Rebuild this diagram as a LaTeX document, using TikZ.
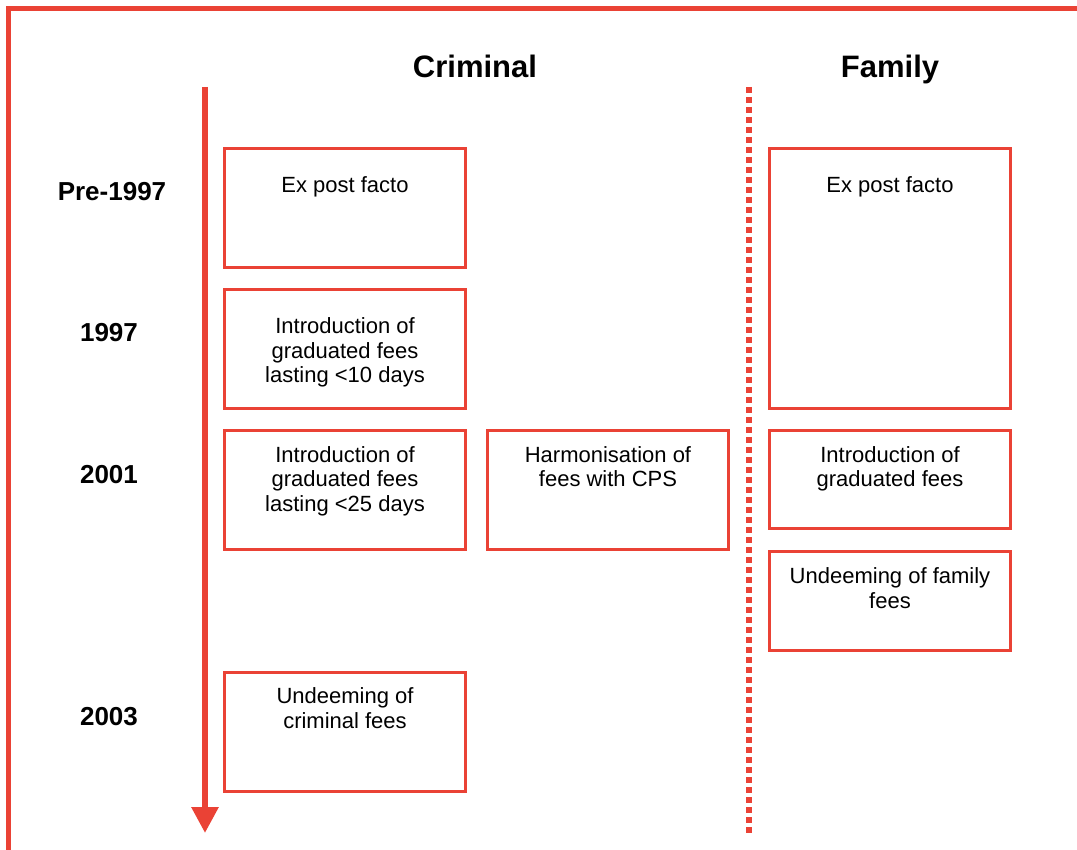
\documentclass[tikz,border=0pt]{standalone}
\usepackage{fontspec}
\setmainfont{Liberation Sans}
\usetikzlibrary{arrows.meta}
\definecolor{tlred}{RGB}{234,66,53}
\begin{document}
\begin{tikzpicture}[x=1pt,y=-1pt,
  box/.style={draw=tlred, line width=3pt, minimum width=241pt, inner sep=0pt, outer sep=0pt},
  boxtext/.style={anchor=north, align=center, inner sep=0pt, font=\fontsize{22}{24.5}\selectfont},
  head/.style={font=\bfseries\fontsize{31}{36}\selectfont, anchor=base, inner sep=0pt},
  yearlabel/.style={font=\bfseries\fontsize{26}{30}\selectfont, anchor=base, inner sep=0pt},
  framepath/.style={draw=tlred, line width=5pt},
  timeline/.style={draw=tlred, line width=6pt, -{Triangle[length=26pt,width=26pt]}},
  divider/.style={draw=tlred, line width=6pt, dash pattern=on 6pt off 4pt}]
\useasboundingbox (0,0) rectangle (1077,850);

% frame (top and left edges)
\coordinate (frBL) at (8.5,855);
\coordinate (frTL) at (8.5,8.5);
\coordinate (frTR) at (1082,8.5);
\draw[framepath] (frBL) -- (frTL) -- (frTR);

% timeline arrow
\coordinate (tlTop) at (205,87);
\coordinate (tlEnd) at (205,833);
\draw[timeline] (tlTop) -- (tlEnd);

% divider
\coordinate (divTop) at (749,87);
\coordinate (divBot) at (749,833);
\draw[divider] (divTop) -- (divBot);

% headings
\node[head] (hCrim) at (475,77.7) {Criminal};
\node[head] (hFam) at (890,77.7) {Family};

% year labels
\node[yearlabel] (yPre) at (112,200.5) {Pre-1997};
\node[yearlabel] (y1997) at (109,341.5) {1997};
\node[yearlabel] (y2001) at (109,483.5) {2001};
\node[yearlabel] (y2003) at (109,725.5) {2003};

% criminal column
\node[box, minimum height=119pt] (cPre) at (345,208) {};
\node[boxtext] (cPreT) at (345,192.5-17.15) {\strut Ex post facto};
\node[box, minimum height=119pt] (c1997) at (345,349) {};
\node[boxtext] (c1997T) at (345,333.5-17.15) {\strut Introduction of\\graduated fees\\lasting <10 days};
\node[box, minimum height=119pt] (c2001) at (345,490) {};
\node[boxtext] (c2001T) at (345,462-17.15) {\strut Introduction of\\graduated fees\\lasting <25 days};
\node[box, minimum height=119pt] (c2003) at (345,732) {};
\node[boxtext] (c2003T) at (345,703.5-17.15) {\strut Undeeming of\\criminal fees};

% middle column
\node[box, minimum height=119pt] (cHarm) at (608,490) {};
\node[boxtext] (cHarmT) at (608,462-17.15) {\strut Harmonisation of\\fees with CPS};

% family column
\node[box, minimum height=260pt] (fPre) at (890,278.5) {};
\node[boxtext] (fPreT) at (890,192.5-17.15) {\strut Ex post facto};
\node[box, minimum height=98pt] (f2001) at (890,479.5) {};
\node[boxtext] (f2001T) at (890,462-17.15) {\strut Introduction of\\graduated fees};
\node[box, minimum height=99pt] (fUnd) at (890,601) {};
\node[boxtext] (fUndT) at (890,583.3-17.15) {\strut Undeeming of family\\fees};
\end{tikzpicture}
\end{document}
